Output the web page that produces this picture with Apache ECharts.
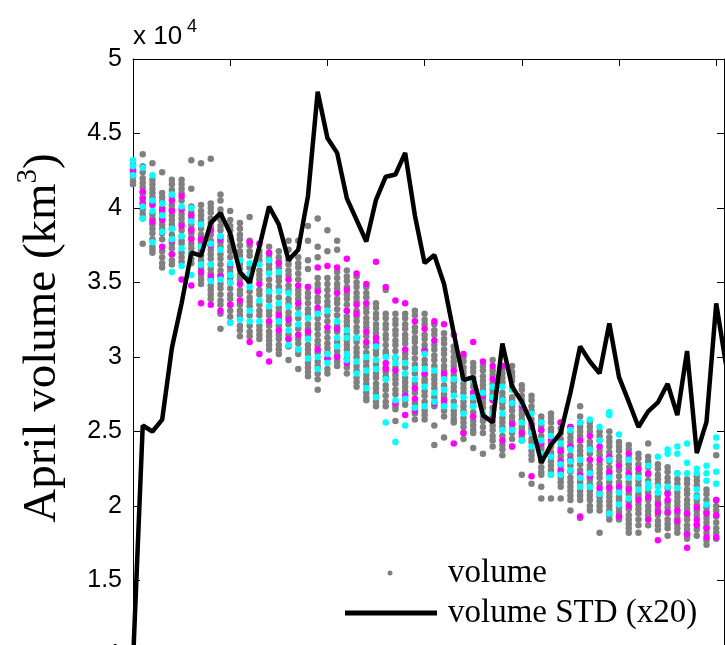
<!DOCTYPE html>
<html><head><meta charset="utf-8">
<script src="https://cdn.jsdelivr.net/npm/echarts@6/dist/echarts.min.js"></script>
<style>html,body{margin:0;padding:0;background:#fff}#c{width:725px;height:645px}</style>
</head><body><div id="c"></div>
<script>
// April volume, in units of 10^4 km^3; one inner array per year column (index = year offset)
const volumeGray = [
[4.29,4.25,4.21,4.18,4.16],
[4.36,4.28,4.24,4.20,4.17,4.14,4.10,4.07,4.03,3.99,3.96,3.93,3.76],
[4.30,4.19,4.16,4.13,4.10,4.07,4.04,3.96,3.93,3.89,3.86,3.83,3.79,3.74,3.72,3.70],
[4.24,4.10,4.07,4.04,4.00,3.97,3.93,3.89,3.86,3.83,3.79,3.71,3.67,3.63,3.60],
[4.19,4.16,4.12,4.08,4.02,3.99,3.95,3.92,3.89,3.86,3.82,3.76,3.73,3.69,3.65,3.62],
[4.19,4.16,4.13,4.10,4.05,3.96,3.93,3.90,3.85,3.81,3.78,3.76,3.70,3.67,3.64],
[4.32,4.13,4.01,3.97,3.93,3.89,3.86,3.83,3.80,3.76,3.73,3.70,3.66,3.63],
[4.30,4.02,3.98,3.95,3.92,3.89,3.86,3.82,3.79,3.77,3.71,3.68,3.65,3.59,3.55,3.52,3.49],
[4.33,4.03,4.00,3.97,3.93,3.90,3.87,3.82,3.78,3.75,3.72,3.69,3.66,3.62,3.59,3.56,3.52,3.48,3.45,3.42,3.39],
[4.09,4.05,3.99,3.96,3.92,3.88,3.85,3.81,3.77,3.74,3.69,3.66,3.62,3.58,3.55,3.49,3.46,3.42,3.38,3.35,3.29,3.19],
[3.98,3.92,3.88,3.85,3.81,3.78,3.74,3.71,3.67,3.60,3.57,3.53,3.50,3.46,3.42,3.39,3.35,3.31,3.27,3.23],
[3.90,3.86,3.82,3.79,3.75,3.71,3.68,3.62,3.59,3.55,3.52,3.45,3.42,3.35,3.31,3.28,3.21,3.18,3.14],
[3.94,3.78,3.75,3.71,3.68,3.60,3.53,3.50,3.44,3.40,3.37,3.34,3.28,3.21,3.17,3.14],
[3.71,3.68,3.65,3.58,3.55,3.52,3.45,3.42,3.35,3.31,3.28,3.21,3.18,3.15,3.12],
[3.74,3.69,3.66,3.62,3.59,3.52,3.48,3.45,3.41,3.38,3.31,3.28,3.21,3.17,3.14,3.11,3.08,3.05],
[3.71,3.67,3.64,3.60,3.54,3.51,3.47,3.40,3.33,3.30,3.26,3.21,3.15,3.12,3.08,3.05,3.02],
[3.78,3.72,3.65,3.62,3.58,3.55,3.48,3.45,3.39,3.36,3.30,3.27,3.22,3.15,3.12,3.07,2.98],
[3.78,3.67,3.63,3.60,3.56,3.52,3.45,3.42,3.39,3.33,3.26,3.19,3.12,3.09,3.05,3.02,2.92],
[3.88,3.78,3.65,3.59,3.47,3.43,3.40,3.36,3.32,3.29,3.22,3.19,3.15,3.08,3.05,3.02,2.96,2.93,2.90,2.87],
[3.93,3.74,3.67,3.53,3.49,3.46,3.40,3.37,3.31,3.26,3.22,3.19,3.15,3.11,3.08,3.03,2.97,2.94,2.89,2.85,2.78],
[3.85,3.71,3.53,3.49,3.45,3.41,3.37,3.34,3.28,3.24,3.17,3.13,3.09,3.06,3.03,2.99,2.92,2.89],
[3.78,3.72,3.57,3.53,3.49,3.46,3.39,3.36,3.32,3.28,3.21,3.17,3.10,3.04,3.01,2.97,2.94],
[3.58,3.54,3.51,3.47,3.42,3.39,3.35,3.31,3.27,3.24,3.21,3.15,3.11,3.08,3.05,2.99,2.93,2.89],
[3.54,3.50,3.47,3.43,3.40,3.37,3.31,3.27,3.24,3.20,3.17,3.10,3.06,3.03,3.00,2.94,2.91,2.86,2.83,2.80],
[3.47,3.43,3.40,3.33,3.30,3.26,3.23,3.20,3.14,3.07,3.03,2.97,2.94,2.88,2.85,2.82,2.76,2.73,2.71],
[3.36,3.33,3.29,3.26,3.22,3.19,3.16,3.11,3.05,3.02,2.95,2.89,2.86,2.82,2.79,2.76,2.70,2.67],
[3.45,3.29,3.26,3.22,3.19,3.15,3.12,3.08,3.04,3.02,2.93,2.90,2.87,2.81,2.78,2.74,2.70,2.67],
[3.29,3.25,3.22,3.18,3.15,3.11,3.08,3.04,2.99,2.93,2.88,2.85,2.82,2.78,2.75,2.67,2.65,2.57],
[3.29,3.26,3.22,3.19,3.15,3.12,3.09,3.02,2.99,2.93,2.86,2.83,2.80,2.77,2.71,2.68],
[3.31,3.28,3.20,3.17,3.13,3.10,3.06,3.03,2.99,2.95,2.89,2.82,2.76,2.69,2.66,2.62,2.58],
[3.29,3.25,3.22,3.15,3.12,3.08,3.05,2.98,2.95,2.88,2.85,2.83,2.77,2.74,2.70,2.64,2.61,2.58],
[3.22,3.18,3.15,3.08,3.05,3.01,2.98,2.94,2.88,2.85,2.82,2.79,2.73,2.67,2.54,2.41],
[3.16,3.12,3.09,3.05,3.02,2.98,2.94,2.91,2.87,2.81,2.75,2.73,2.69,2.64,2.60,2.46],
[3.07,3.04,3.00,2.97,2.94,2.88,2.83,2.80,2.77,2.70,2.64,2.61,2.58,2.56],
[3.00,2.97,2.93,2.90,2.87,2.82,2.79,2.76,2.70,2.67,2.64,2.59,2.56,2.53,2.49,2.45],
[2.96,2.93,2.90,2.86,2.83,2.80,2.76,2.70,2.67,2.63,2.57,2.54,2.51,2.49,2.39],
[2.94,2.91,2.87,2.84,2.81,2.78,2.72,2.69,2.66,2.60,2.57,2.53,2.49,2.35],
[2.98,2.91,2.88,2.82,2.78,2.75,2.72,2.66,2.63,2.57,2.54,2.51,2.47,2.44,2.40],
[2.92,2.89,2.86,2.83,2.76,2.73,2.69,2.66,2.59,2.56,2.53,2.47,2.41,2.38,2.34],
[2.94,2.90,2.87,2.84,2.80,2.73,2.71,2.67,2.64,2.60,2.57,2.52,2.49,2.45,2.40],
[2.81,2.78,2.74,2.71,2.64,2.61,2.58,2.53,2.51,2.47,2.44,2.21],
[2.74,2.71,2.67,2.64,2.58,2.53,2.51,2.45,2.43,2.37,2.34,2.31,2.15],
[2.60,2.57,2.54,2.51,2.47,2.40,2.38,2.33,2.30,2.26,2.23,2.21,2.13,2.05],
[2.62,2.59,2.56,2.52,2.50,2.42,2.40,2.36,2.30,2.27,2.24,2.21,2.05],
[2.56,2.52,2.49,2.45,2.39,2.36,2.33,2.27,2.22,2.19,2.16,2.13,2.05],
[2.53,2.49,2.46,2.43,2.40,2.34,2.30,2.27,2.23,2.19,2.16,2.13,2.10,2.07,2.04,1.97],
[2.67,2.60,2.53,2.50,2.47,2.40,2.37,2.34,2.28,2.24,2.18,2.16,2.10,2.07,2.04,1.92],
[2.56,2.53,2.50,2.43,2.40,2.35,2.31,2.27,2.24,2.18,2.15,2.10,2.07,2.04,2.00,1.97],
[2.50,2.47,2.44,2.37,2.34,2.28,2.25,2.22,2.19,2.15,2.09,2.06,2.03,2.00,1.97,1.82],
[2.50,2.46,2.43,2.40,2.36,2.30,2.26,2.21,2.16,2.13,2.09,2.06,2.03,2.00,1.97,1.94,1.91],
[2.43,2.40,2.37,2.33,2.30,2.24,2.20,2.16,2.10,2.06,2.04,1.99,1.96,1.93,1.91],
[2.41,2.38,2.32,2.28,2.25,2.20,2.16,2.13,2.08,2.03,1.98,1.94,1.91,1.88,1.85,1.82],
[2.35,2.32,2.28,2.22,2.17,2.14,2.08,2.06,2.01,1.98,1.95,1.91,1.87,1.82],
[2.42,2.33,2.30,2.26,2.21,2.17,2.12,2.09,2.04,2.00,1.97,1.94,1.87],
[2.28,2.25,2.21,2.18,2.15,2.09,2.06,2.03,1.98,1.94,1.90,1.87,1.84],
[2.26,2.23,2.19,2.16,2.12,2.09,2.02,1.99,1.95,1.91,1.88,1.85,1.80],
[2.22,2.18,2.15,2.09,2.06,2.03,2.00,1.95,1.92,1.88,1.85,1.82],
[2.18,2.15,2.11,2.08,2.04,2.01,1.98,1.94,1.91,1.87,1.84,1.81,1.78],
[2.20,2.17,2.14,2.07,2.04,2.01,1.97,1.94,1.88,1.84,1.80],
[2.11,2.08,2.04,1.99,1.96,1.92,1.89,1.86,1.82,1.77,1.74],
[2.34,2.04,2.00,1.97,1.93,1.89,1.85,1.82,1.78]
];
const volumeMagenta = [
[4.26,4.24],[4.11,4.06,4.03],[4.02,3.91],[3.99,3.92,3.74],[4.05,3.98,3.78,3.69],
[4.08,3.99,3.88,3.52],[3.95,3.85,3.79,3.48],[3.79,3.57,3.36],[3.85,3.75,3.54,3.35],[3.79,3.54,3.31],
[3.62,3.35],[3.49,3.38],[3.77,3.10],[3.76,3.49,3.02],[3.70,3.24,2.97],
[3.63,3.28,3.18],[3.52,3.25,3.12],[3.48,3.36,3.15],[3.47,3.17],[3.60,3.44,3.33,3.05],
[3.61,3.20,2.99],[3.60,3.43,3.19,3.00],[3.66,3.45,3.31,2.96],[3.56,3.35,3.29,3.13],[3.49,3.36,3.17,3.10],
[3.64,3.13,3.09],[3.47,2.96,2.92],[3.38,2.91,2.69],[3.36,3.05,2.74,2.61],[3.24,2.79,2.72,2.64],
[3.19,3.04,2.89],[3.24,3.11,2.69],[3.22,2.89,2.71],[3.15,2.91,2.42],[3.02,2.49],
[3.10,2.76,2.60],[2.97,2.74],[2.94,2.85,2.71,2.60],[2.94,2.71,2.44],[2.69,2.55,2.40],
[2.67,2.49],[2.55,2.49,2.20],[2.51,2.42],[2.44,2.33],[2.56,2.37,2.30,2.24],
[2.53,2.40,2.31],[2.56,2.44,2.21,1.93],[2.47,2.31,2.20],[2.40,2.31,2.12],[2.33,2.23,2.12],
[2.27,2.13,1.93],[2.35,2.22,2.11,2.00],[2.25,2.04],[2.22,2.06,1.91],[2.01,1.96,1.77],
[2.08,2.04,1.96],[1.97,1.90],[1.95,1.81,1.72],[1.99,1.91,1.87],[1.95,1.85,1.79],
[2.04,1.94,1.79]
];
const volumeCyan = [
[4.32,4.28,4.22],[4.27,4.01,3.93],[4.22,4.05,3.98,3.77],[4.03,3.95,3.84],[4.09,3.86,3.79,3.57],
[4.01,3.81,3.73,3.61],[4.00,3.91,3.69,3.55],[3.89,3.74,3.62],[3.76,3.62,3.51],[3.81,3.72,3.52],
[3.63,3.55,3.50,3.23],[3.65,3.25],[3.63,3.56,3.47,3.31,3.24],[3.62,3.38,3.24],[3.65,3.56,3.44,3.34],
[3.57,3.44,3.36,3.24],[3.43,3.34,3.18,3.08],[3.29,3.22,3.05],[3.26,3.12,2.99],[3.29,3.00,2.92],
[3.31,3.02,2.96],[3.24,3.13,3.07],[3.18,3.13,3.02,2.98],[3.13,2.97,2.89],[3.00,2.91,2.79],
[3.07,2.98,2.92,2.73],[3.00,2.85,2.56],[3.00,2.96,2.71,2.43],[2.96,2.89,2.72,2.54],[2.92,2.85,2.66],
[3.02,2.92,2.80,2.67],[2.91,2.76,2.70],[2.85,2.78,2.67],[2.85,2.74,2.67],[2.85,2.73,2.62],
[2.84,2.73,2.67],[2.76,2.62],[2.80,2.73,2.62],[2.80,2.71,2.62,2.51],[2.78,2.69,2.51],
[2.69,2.56,2.44],[2.62,2.49,2.40],[2.56,2.44,2.35],[2.47,2.33,2.21],[2.42,2.28,2.21],
[2.51,2.38,2.30,2.24],[2.56,2.31,2.19,2.13],[2.58,2.38,2.22,2.13],[2.53,2.44,2.08],[2.63,2.61,2.31,2.19,1.95],
[2.48,2.09,2.01],[2.31,2.19,2.05],[2.19,2.11],[2.27,2.15,2.12],[2.33,2.13,2.09],
[2.38,2.35,2.13],[2.40,2.35,2.22,2.12],[2.42,2.29,2.22],[2.25,2.22,2.11,2.06],[2.27,2.22,2.17,2.01],
[2.46,2.40,2.23,2.15]
];
// ensemble volume standard deviation x20, same units, one value per year column
const volumeStdX20 = [0.95,2.54,2.50,2.58,3.06,3.36,3.70,3.68,3.90,3.965,
3.83,3.57,3.50,3.74,4.01,3.89,3.65,3.72,4.08,4.78,
4.47,4.37,4.065,3.92,3.775,4.055,4.21,4.225,4.37,3.95,
3.63,3.685,3.49,3.16,2.845,2.865,2.61,2.56,3.09,2.80,
2.70,2.555,2.29,2.41,2.49,2.76,3.07,2.97,2.89,3.225,
2.865,2.70,2.53,2.635,2.695,2.82,2.61,3.04,2.355,2.565,
3.36,2.95];
const yTickLabels = ['1','1.5','2','2.5','3','3.5','4','4.5','5'];

function toPoints(cols){const out=[];cols.forEach(function(vals,i){vals.forEach(function(v){out.push([i,v]);});});return out;}

const chart = echarts.init(document.getElementById('c'), null, {renderer:'canvas'});
const sans = 'Liberation Sans';
const serif = 'Liberation Serif';
const axisLineStyle = {color:'#000', width:1};
chart.setOption({
  animation:false,
  backgroundColor:'#fff',
  grid:{left:133, top:59, width:591, height:596, outerBoundsMode:'none', containLabel:false},
  xAxis:[{type:'value', position:'top', min:0, max:60.8, interval:10,
    axisLine:{show:true, onZero:false, lineStyle:axisLineStyle},
    axisTick:{show:true, inside:true, length:7, lineStyle:axisLineStyle},
    axisLabel:{show:false}, splitLine:{show:false}}],
  yAxis:[{type:'value', position:'left', min:1, max:5, interval:0.5,
      axisLine:{show:true, onZero:false, lineStyle:axisLineStyle},
      axisTick:{show:true, inside:true, length:7, lineStyle:axisLineStyle},
      axisLabel:{show:true, margin:11, color:'#000', fontFamily:sans, fontSize:25,
        showMinLabel:true, showMaxLabel:true,
        formatter:function(v){return yTickLabels[Math.round((v-1)/0.5)];}},
      splitLine:{show:false},
      name:'{a|April volume (km}{s|3}{a|)}', nameLocation:'middle', nameGap:61, nameRotate:90,
      nameTextStyle:{color:'#000', fontFamily:serif, fontSize:47, padding:[0,0,0,38],
        rich:{a:{fontFamily:serif, fontSize:47, lineHeight:58, color:'#000'},
              s:{fontFamily:serif, fontSize:29, color:'#000', verticalAlign:'top'}}}},
    {type:'value', position:'right', min:1, max:5, interval:0.5,
      axisLine:{show:true, onZero:false, lineStyle:axisLineStyle},
      axisTick:{show:true, inside:true, length:7, lineStyle:axisLineStyle},
      axisLabel:{show:false}, splitLine:{show:false}}],
  legend:[
    {data:['volume'], left:387.5, top:556.5, padding:0, itemWidth:5, itemHeight:5, icon:'circle',
      selectedMode:false, textStyle:{fontFamily:serif, fontSize:33, color:'#000', padding:[0,0,0,50.5]}},
    {data:['volume STD (x20)'], left:345, top:596.5, padding:0, itemWidth:92, itemHeight:5, icon:'rect',
      selectedMode:false, textStyle:{fontFamily:serif, fontSize:33, color:'#000', padding:[0,0,0,6]}}
  ],
  graphic:[
    {type:'text', x:133, y:50, style:{text:'x 10', fontFamily:sans, fontSize:26, fill:'#000', align:'left', verticalAlign:'bottom'}},
    {type:'text', x:187, y:36, style:{text:'4', fontFamily:sans, fontSize:18, fill:'#000', align:'left', verticalAlign:'bottom'}}
  ],
  series:[
    {name:'volume', type:'scatter', data:toPoints(volumeGray), symbol:'circle', symbolSize:6.5,
      itemStyle:{color:'#808080', opacity:1}, clip:true, emphasis:{disabled:true}},
    {name:'volume (magenta)', type:'scatter', data:toPoints(volumeMagenta), symbol:'circle', symbolSize:6.5,
      itemStyle:{color:'#ff00ff', opacity:1}, clip:true, emphasis:{disabled:true}},
    {name:'volume (cyan)', type:'scatter', data:toPoints(volumeCyan), symbol:'circle', symbolSize:6.5,
      itemStyle:{color:'#00ffff', opacity:1}, clip:true, emphasis:{disabled:true}},
    {name:'volume STD (x20)', type:'line', data:volumeStdX20.map(function(v,i){return [i,v];}),
      symbol:'none', showSymbol:false, clip:true, lineStyle:{color:'#000', width:4.5}, itemStyle:{color:'#000'},
      emphasis:{disabled:true}}
  ]
});
</script></body></html>
